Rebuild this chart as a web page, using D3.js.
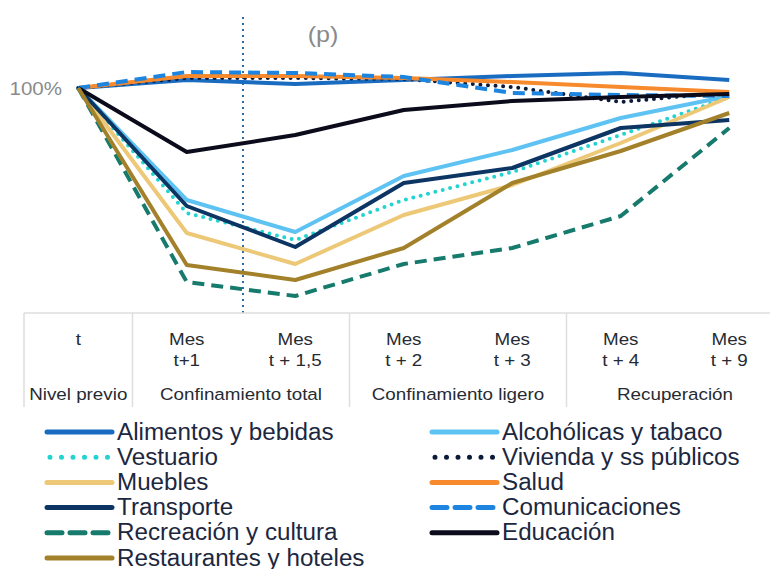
<!DOCTYPE html>
<html>
<head>
<meta charset="utf-8">
<script src="https://cdn.jsdelivr.net/npm/d3@7"></script>
<style>
    body { margin: 0; background: #fff; }
    svg { display: block; font-family: "Liberation Sans", Arial, sans-serif; }
</style>
</head>
<body>
<div class="chart"></div>
<script>
// categories (x axis)
const periods = ["t", "t+1", "t+1,5", "t+2", "t+3", "t+4", "t+9"];
const tickTop = ["t", "Mes", "Mes", "Mes", "Mes", "Mes", "Mes"];
const tickBottom = ["", "t+1", "t + 1,5", "t + 2", "t + 3", "t + 4", "t + 9"];
const phases = ["Nivel previo", "Confinamiento total", "Confinamiento ligero", "Recuperación"];
const phaseSpan = [1, 2, 2, 2];

// series (index, nivel previo = 100)
const alimentos      = [100, 101.6, 100.8, 101.6, 102.4, 103, 101.6];
const alcoholicas    = [100, 77.6, 71.2, 82.4, 87.6, 94, 98.4];
const vestuario      = [100, 75, 69.6, 77.6, 83.2, 90.6, 98.2];
const vivienda       = [100, 102, 102, 101.8, 100.2, 97.2, 99.2];
const muebles        = [100, 71, 64.8, 74.6, 80.6, 89, 98.2];
const salud          = [100, 102.4, 102.4, 102, 101.2, 100.2, 99.2];
const transporte     = [100, 76.4, 68.2, 81, 84, 92, 93.6];
const comunicaciones = [100, 103.2, 103, 102.2, 99, 98.6, 98.4];
const recreacion     = [100, 61.2, 58.4, 64.8, 68, 74.4, 92];
const educacion      = [100, 87.2, 90.6, 95.6, 97.4, 98.2, 98.8];
const restaurantes   = [100, 64.6, 61.6, 68, 81, 87.4, 95];

const series = [
    {name: "Alimentos y bebidas", values: alimentos, color: "#1a6cc0", dash: null},
    {name: "Alcohólicas y tabaco", values: alcoholicas, color: "#5ec3f2", dash: null},
    {name: "Vestuario", values: vestuario, color: "#22d3d0", dash: "dot"},
    {name: "Vivienda y ss públicos", values: vivienda, color: "#0c1a3a", dash: "dot"},
    {name: "Muebles", values: muebles, color: "#ecc877", dash: null},
    {name: "Salud", values: salud, color: "#f68a2c", dash: null},
    {name: "Transporte", values: transporte, color: "#0d3563", dash: null},
    {name: "Comunicaciones", values: comunicaciones, color: "#1d85e0", dash: "dash"},
    {name: "Recreación y cultura", values: recreacion, color: "#167a6c", dash: "dash"},
    {name: "Educación", values: educacion, color: "#0b0b1c", dash: null},
    {name: "Restaurantes y hoteles", values: restaurantes, color: "#a3812a", dash: null}
];

const width = 770, height = 569;
const svg = d3.select(".chart").append("svg")
    .attr("width", width)
    .attr("height", height);

const tableTop = 313, tableBottom = 407;
const stretch = 1.14; // the picture's small labels are a bit wide

let x = d3.scaleBand()
    .domain(periods)
    .range([24, 24 + 7 * 108.5]);
const cx = (p) => x(p) + x.bandwidth() / 2;

let y = d3.scaleLinear()
    .domain([55, 110])
    .range([tableTop, 38]);

function dashFor(d, w) {
    if (d === "dot") return "0 " + (w * 1.9);
    if (d === "dash") return "12 7";
    return null;
}

// text placed at (px, py), widened a little
function wideText(g, px, py, size, anchor, sx) {
    return g.append("text")
        .attr("transform", "translate(" + px + "," + py + ") scale(" + (sx || stretch) + ",1)")
        .attr("text-anchor", anchor || "middle")
        .style("font-size", size + "px");
}

// vertical marker between t+1 and t+1,5
const markX = (cx(periods[1]) + cx(periods[2])) / 2 + 2;
svg.append("line")
    .attr("x1", markX)
    .attr("x2", markX)
    .attr("y1", 17)
    .attr("y2", tableTop)
    .attr("stroke", "#2a6db0")
    .attr("stroke-width", 2)
    .attr("stroke-dasharray", "2 4");

// "(p)" mark
wideText(svg, 323, 42, 22)
    .attr("fill", "#8a8a8a")
    .text("(p)");

// y axis: only the 100% label
svg.append("g")
    .attr("class", "yaxis")
    .call(d3.axisLeft(y).tickValues([100]).tickFormat(d => d + "%").tickSize(0))
    .call(g => g.select(".domain").remove())
    .call(g => g.selectAll(".tick text").remove());
svg.selectAll(".yaxis .tick").each(function(d){
    wideText(d3.select(this), 62, 6, 18, "end")
        .attr("fill", "#8a8a8a")
        .text(d + "%");
});

// lines
const line = d3.line()
    .x((d, i) => cx(periods[i]))
    .y(d => y(d));

svg.append("g")
    .selectAll("path")
    .data(series)
    .enter()
    .append("path")
    .attr("d", d => line(d.values))
    .attr("fill", "none")
    .attr("stroke", d => d.color)
    .attr("stroke-width", 4)
    .attr("stroke-linecap", d => d.dash === "dot" ? "round" : "butt")
    .attr("stroke-linejoin", "round")
    .attr("stroke-dasharray", d => dashFor(d.dash, 4));

// category table
const table = svg.append("g");
table.append("line")
    .attr("x1", 24).attr("x2", width)
    .attr("y1", tableTop).attr("y2", tableTop)
    .attr("stroke", "#dedede").attr("stroke-width", 1.5);

let idx = 0;
const bounds = [x(periods[0])];
phaseSpan.forEach(function(n){
    idx += n;
    bounds.push(idx < periods.length ? x(periods[idx]) : x(periods[idx - 1]) + x.bandwidth());
});
bounds.slice(0, -1).forEach(function(b){
    table.append("line")
        .attr("x1", b).attr("x2", b)
        .attr("y1", tableTop).attr("y2", tableBottom)
        .attr("stroke", "#dedede").attr("stroke-width", 1.5);
});

const axisText = "#262b33";
periods.forEach(function(p, i){
    wideText(table, cx(p), 345, 16.5).attr("fill", axisText).text(tickTop[i]);
    wideText(table, cx(p), 366, 16.5).attr("fill", axisText).text(tickBottom[i]);
});
phases.forEach(function(ph, i){
    wideText(table, (bounds[i] + bounds[i + 1]) / 2, 400, 16.5).attr("fill", axisText).text(ph);
});

// legend: two columns, left column first 6, right column the rest
const legend = svg.append("g");
const order = [0, 2, 4, 6, 8, 10, 1, 3, 5, 7, 9];
const leg = legend.selectAll("g")
    .data(series)
    .enter()
    .append("g")
    .attr("transform", function(d, i){
        const k = order.indexOf(i);
        const col = k < 6 ? 0 : 1;
        const row = k < 6 ? k : k - 6;
        return "translate(" + (col === 0 ? 47 : 432) + "," + (432 + row * 25.2) + ")";
    });

leg.append("line")
    .attr("x1", d => d.dash === "dot" ? 3 : 0)
    .attr("x2", 65)
    .attr("y1", 0).attr("y2", 0)
    .attr("stroke", d => d.color)
    .attr("stroke-width", 5)
    .attr("stroke-linecap", "round")
    .attr("stroke-dasharray", d => d.dash === "dot" ? "0 11.5" : (d.dash === "dash" ? "15 8" : null));

leg.each(function(d){
    wideText(d3.select(this), 70, 7.5, 23.5, "start", 1.03)
        .attr("fill", "#1c2740")
        .text(d.name);
});
</script>
</body>
</html>
